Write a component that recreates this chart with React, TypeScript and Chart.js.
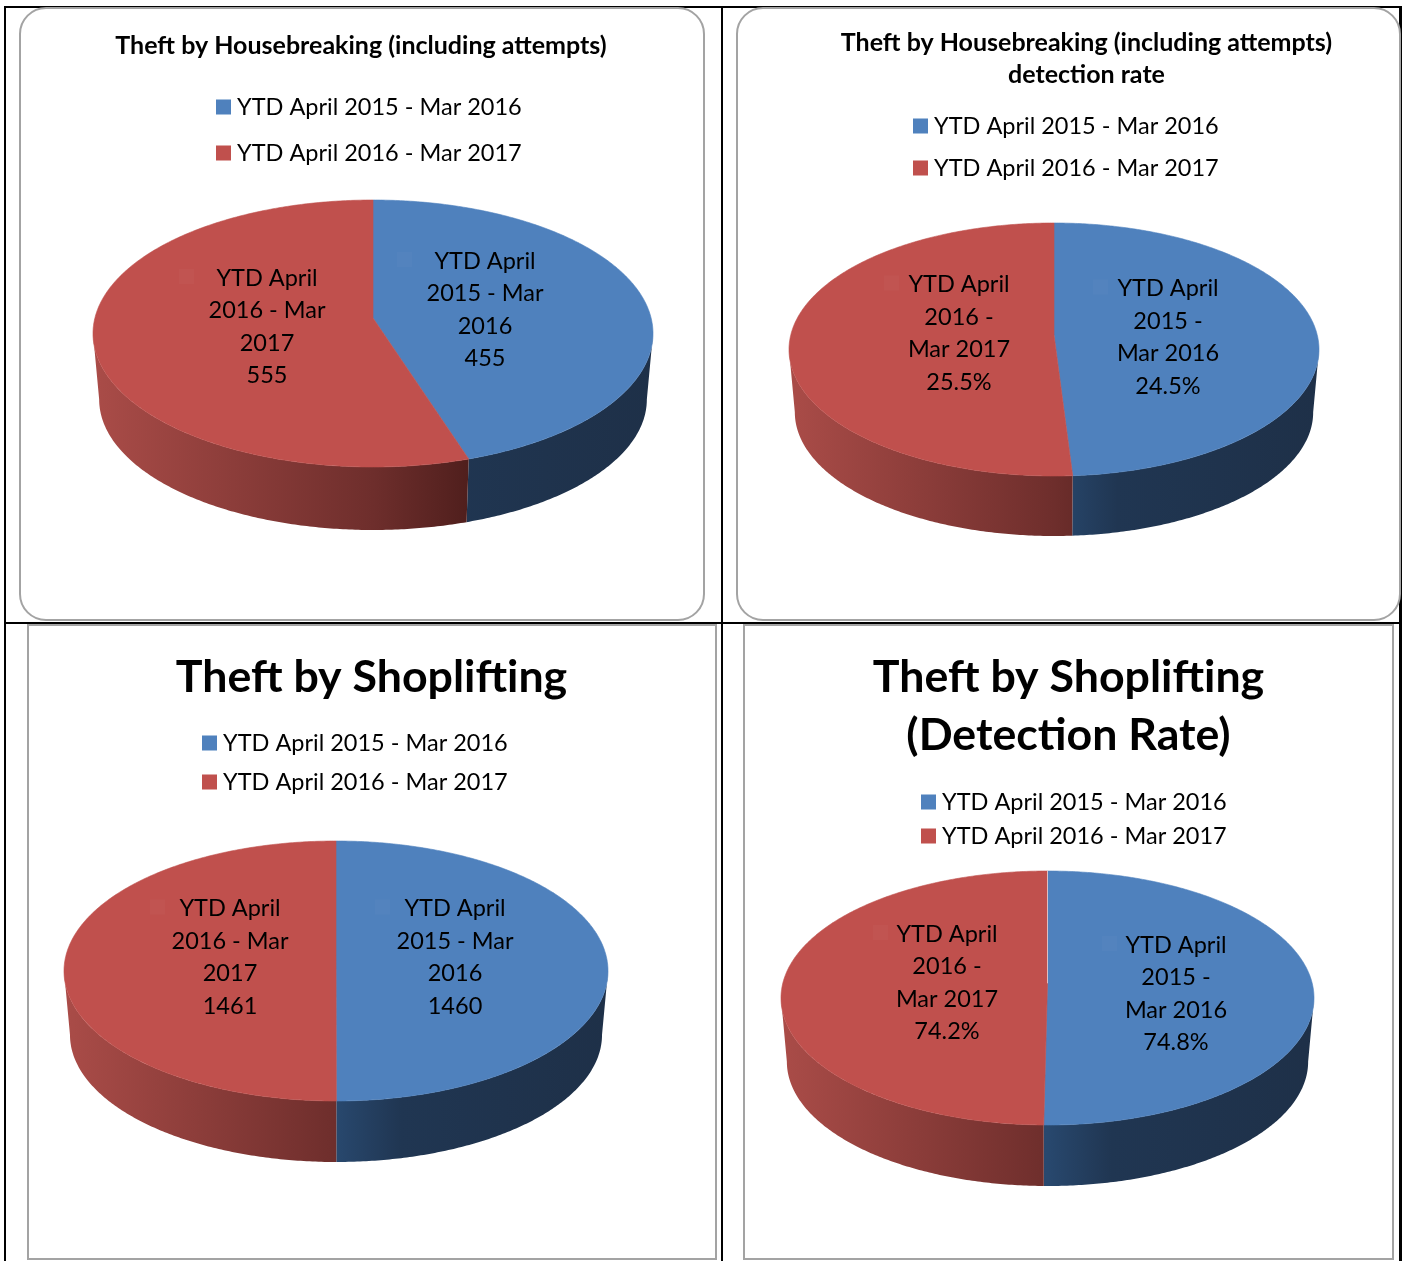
import React, { useEffect, useRef } from "react";
import { Chart, registerables } from "chart.js";

Chart.register(...registerables);

const categories = ["YTD April 2015 - Mar 2016", "YTD April 2016 - Mar 2017"];
const wideLabelLines = [
  ["YTD April", "2015 - Mar", "2016"],
  ["YTD April", "2016 - Mar", "2017"],
];
const narrowLabelLines = [
  ["YTD April", "2015 -", "Mar 2016"],
  ["YTD April", "2016 -", "Mar 2017"],
];
const housebreakingValues = [455, 555];
const housebreakingRateValues = [24.5, 25.5];
const shopliftingValues = [1460, 1461];
const shopliftingRateValues = [74.8, 74.2];
const sliceColors = ["#4F81BD", "#C0504D"];

const FONT = "Lato";
const LABEL_SIZE = 23.5;
const SMALL_TITLE = 25;
const BIG_TITLE = 44.7;
const PERSPECTIVE = 0.116;
const BASE_SCALE = 0.978;

const panels = [
  {
    frame: { left: 19, top: 7, width: 686, height: 614, radius: 27 },
    title: ["Theft by Housebreaking (including attempts)"],
    titleSize: SMALL_TITLE, titleLine: 32, titleX: 361, titleY: 45.5,
    values: housebreakingValues, unit: "", lines: wideLabelLines,
    legendX: 216, legendY: 107, legendGap: 46,
    pie: { cx: 373, half: 280, top: 200, front: 467, bottom: 530 },
    labels: [{ x: 485, y: 261 }, { x: 267, y: 278 }], keyOffset: -88,
    seam: false,
  },
  {
    frame: { left: 736, top: 7, width: 665, height: 614, radius: 27 },
    title: ["Theft by Housebreaking (including attempts)", "detection rate"],
    titleSize: SMALL_TITLE, titleLine: 32, titleX: 1086.5, titleY: 42.5,
    values: housebreakingRateValues, unit: "%", lines: narrowLabelLines,
    legendX: 913, legendY: 126, legendGap: 42,
    pie: { cx: 1054, half: 265, top: 223, front: 476, bottom: 536 },
    labels: [{ x: 1168, y: 288.5 }, { x: 959, y: 284.5 }], keyOffset: -75,
    seam: false,
  },
  {
    frame: { left: 27, top: 624, width: 690, height: 636, radius: 0 },
    title: ["Theft by Shoplifting"],
    titleSize: BIG_TITLE, titleLine: 58, titleX: 371.5, titleY: 678,
    values: shopliftingValues, unit: "", lines: wideLabelLines,
    legendX: 202, legendY: 743, legendGap: 39,
    pie: { cx: 336, half: 272, top: 841, front: 1101, bottom: 1162 },
    labels: [{ x: 455, y: 908.5 }, { x: 230, y: 908.5 }], keyOffset: -80,
    seam: false,
  },
  {
    frame: { left: 743, top: 624, width: 651, height: 636, radius: 0 },
    title: ["Theft by Shoplifting", "(Detection Rate)"],
    titleSize: BIG_TITLE, titleLine: 58, titleX: 1068.5, titleY: 678,
    values: shopliftingRateValues, unit: "%", lines: narrowLabelLines,
    legendX: 921, legendY: 802, legendGap: 34,
    pie: { cx: 1047.5, half: 266.5, top: 871, front: 1125, bottom: 1186 },
    labels: [{ x: 1176, y: 945 }, { x: 947, y: 934 }], keyOffset: -74,
    seam: true,
  },
];

const LABEL_LINE = 32.6;

function geometry(pie: any, ox: number, oy: number) {
  const p = PERSPECTIVE;
  const total = pie.front - pie.top;
  const ry = (total * (1 - p * p)) / 2;
  const rx = pie.half * Math.sqrt(1 - p * p);
  const apexY = pie.top + ry / (1 + p);
  const cx = pie.cx;
  const baseDrop = pie.bottom - apexY - (BASE_SCALE * ry) / (1 - p);
  const project = (angle: number, scale: number, drop: number) => {
    const u = Math.cos(angle);
    const v = Math.sin(angle);
    const w = 1 - p * v;
    return {
      x: cx - ox + (scale * rx * u) / w,
      y: apexY - oy + drop + (scale * ry * v) / w,
    };
  };
  return { rx, ry, cx: cx - ox, apexY: apexY - oy, baseDrop, project };
}

function wallGradient(ctx: CanvasRenderingContext2D, index: number, left: number, width: number) {
  const g = ctx.createLinearGradient(left, 0, left + width, 0);
  if (index === 0) {
    g.addColorStop(0, "rgb(60,100,150)");
    g.addColorStop(0.5, "rgb(40,72,110)");
    g.addColorStop(0.62, "rgb(32,54,82)");
    g.addColorStop(1, "rgb(30,48,72)");
  } else {
    g.addColorStop(0, "rgb(170,76,72)");
    g.addColorStop(0.5, "rgb(110,46,44)");
    g.addColorStop(0.68, "rgb(78,30,28)");
    g.addColorStop(1, "rgb(70,26,24)");
  }
  return g;
}

function makePlugin(panel: any) {
  const ox = panel.frame.left;
  const oy = panel.frame.top;
  return {
    id: "pieMarks",
    afterLayout(chart: any) {
      const legend = chart.legend;
      const pad = panel.legendGap - LABEL_SIZE;
      legend.left = panel.legendX - ox - pad + (LABEL_SIZE - 12) / 2;
      legend.right = legend.left + 340;
      legend.top = panel.legendY - oy - LABEL_SIZE / 2 - pad;
      legend.bottom = chart.height;
      const title = chart.titleBlock;
      const span = 340;
      title.left = panel.titleX - ox - span;
      title.right = panel.titleX - ox + span;
      title.top = panel.titleY - oy - panel.titleLine / 2;
      title.bottom = title.top + panel.titleLine * panel.title.length;
    },
    beforeDatasetDraw() {
      return false;
    },
    afterDatasetsDraw(chart: any) {
      const ctx: CanvasRenderingContext2D = chart.ctx;
      const geo = geometry(panel.pie, ox, oy);
      const arcs = chart.getDatasetMeta(0).data;
      const colors = chart.data.datasets[0].backgroundColor;
      const left = geo.cx - panel.pie.half;
      const width = panel.pie.half * 2;
      const silhouette = Math.asin(PERSPECTIVE);
      const sampled = (a: number, b: number, scale: number, drop: number) => {
        const steps = Math.max(8, Math.ceil(Math.abs(b - a) / 0.01));
        const pts = [];
        for (let i = 0; i <= steps; i++) pts.push(geo.project(a + ((b - a) * i) / steps, scale, drop));
        return pts;
      };
      ctx.save();
      arcs.forEach((arc: any, i: number) => {
        const a = Math.max(arc.startAngle, silhouette);
        const b = Math.min(arc.endAngle, Math.PI - silhouette);
        if (b <= a) return;
        const upper = sampled(a, b, 1, 0);
        const lower = sampled(b, a, BASE_SCALE, geo.baseDrop);
        ctx.beginPath();
        [...upper, ...lower].forEach((pt, k) => (k ? ctx.lineTo(pt.x, pt.y) : ctx.moveTo(pt.x, pt.y)));
        ctx.closePath();
        ctx.fillStyle = wallGradient(ctx, i, left, width);
        ctx.fill();
      });
      arcs.forEach((arc: any, i: number) => {
        ctx.beginPath();
        ctx.moveTo(geo.cx, geo.apexY);
        sampled(arc.startAngle, arc.endAngle, 1, 0).forEach((pt) => ctx.lineTo(pt.x, pt.y));
        ctx.closePath();
        ctx.fillStyle = colors[i];
        ctx.strokeStyle = colors[i];
        ctx.lineWidth = 0.6;
        ctx.fill();
        ctx.stroke();
      });
      if (panel.seam) {
        const edge = geo.project(-Math.PI / 2, 1, 0);
        ctx.beginPath();
        ctx.moveTo(geo.cx, geo.apexY);
        ctx.lineTo(edge.x, edge.y);
        ctx.strokeStyle = "rgba(255,255,255,0.6)";
        ctx.lineWidth = 1;
        ctx.stroke();
      }
      ctx.font = `${LABEL_SIZE}px ${FONT}`;
      ctx.textAlign = "center";
      ctx.textBaseline = "middle";
      panel.labels.forEach((at: any, i: number) => {
        const x = at.x - ox;
        const y = at.y - oy;
        ctx.fillStyle = "rgba(255,255,255,0.025)";
        ctx.fillRect(x + panel.keyOffset, y - 9, 15, 15);
        ctx.fillStyle = "#000";
        const text = [...panel.lines[i], `${panel.values[i]}${panel.unit}`];
        text.forEach((line: string, k: number) => ctx.fillText(line, x, y + k * LABEL_LINE));
      });
      ctx.restore();
    },
  };
}

function PieCanvas({ panel }: { panel: any }) {
  const ref = useRef<HTMLCanvasElement>(null);
  useEffect(() => {
    if (!ref.current) return;
    const stroke = LABEL_SIZE - 12;
    const chart = new Chart(ref.current, {
      type: "pie",
      data: {
        labels: categories,
        datasets: [
          {
            data: panel.values,
            backgroundColor: sliceColors,
            borderWidth: 0,
            radius: geometry(panel.pie, 0, 0).rx,
          } as any,
        ],
      },
      options: {
        animation: false,
        responsive: false,
        events: [],
        plugins: {
          tooltip: { enabled: false },
          title: {
            display: true,
            text: panel.title,
            color: "#000",
            padding: 0,
            font: {
              family: FONT,
              weight: "bold",
              size: panel.titleSize,
              lineHeight: `${panel.titleLine}px`,
            },
          },
          legend: {
            display: true,
            position: "left",
            align: "start",
            labels: {
              color: "#000",
              padding: panel.legendGap - LABEL_SIZE,
              boxWidth: 15 - stroke,
              boxHeight: 15 - stroke,
              font: { family: FONT, size: LABEL_SIZE, lineHeight: 1 },
              generateLabels: () =>
                categories.map((text, i) => ({
                  text,
                  fillStyle: sliceColors[i],
                  strokeStyle: sliceColors[i],
                  lineWidth: stroke,
                  lineJoin: "miter",
                  fontColor: "#000",
                  hidden: false,
                  index: i,
                })),
            },
          },
        },
      } as any,
      plugins: [makePlugin(panel)],
    });
    return () => chart.destroy();
  }, [panel]);
  return (
    <canvas
      ref={ref}
      width={panel.frame.width}
      height={panel.frame.height}
      style={{ position: "absolute", left: panel.frame.left, top: panel.frame.top }}
    />
  );
}

const rules = [
  { left: 4, top: 6, width: 1398, height: 2 },
  { left: 4, top: 6, width: 2, height: 1255 },
  { left: 721, top: 6, width: 2, height: 1255 },
  { left: 1399, top: 6, width: 3, height: 1255 },
  { left: 4, top: 622, width: 1398, height: 2 },
];

export default function App() {
  return (
    <div style={{ position: "absolute", left: 0, top: 0, width: 1404, height: 1261, overflow: "hidden", background: "#fff" }}>
      {rules.map((r, i) => (
        <div key={i} style={{ position: "absolute", background: "#000", ...r }} />
      ))}
      {panels.map((panel, i) => (
        <div
          key={`f${i}`}
          style={{
            position: "absolute",
            boxSizing: "border-box",
            left: panel.frame.left,
            top: panel.frame.top,
            width: panel.frame.width,
            height: panel.frame.height,
            borderRadius: panel.frame.radius,
            border: "2px solid #a3a3a3",
            background: "#fff",
          }}
        />
      ))}
      {panels.map((panel, i) => (
        <PieCanvas key={`c${i}`} panel={panel} />
      ))}
    </div>
  );
}
